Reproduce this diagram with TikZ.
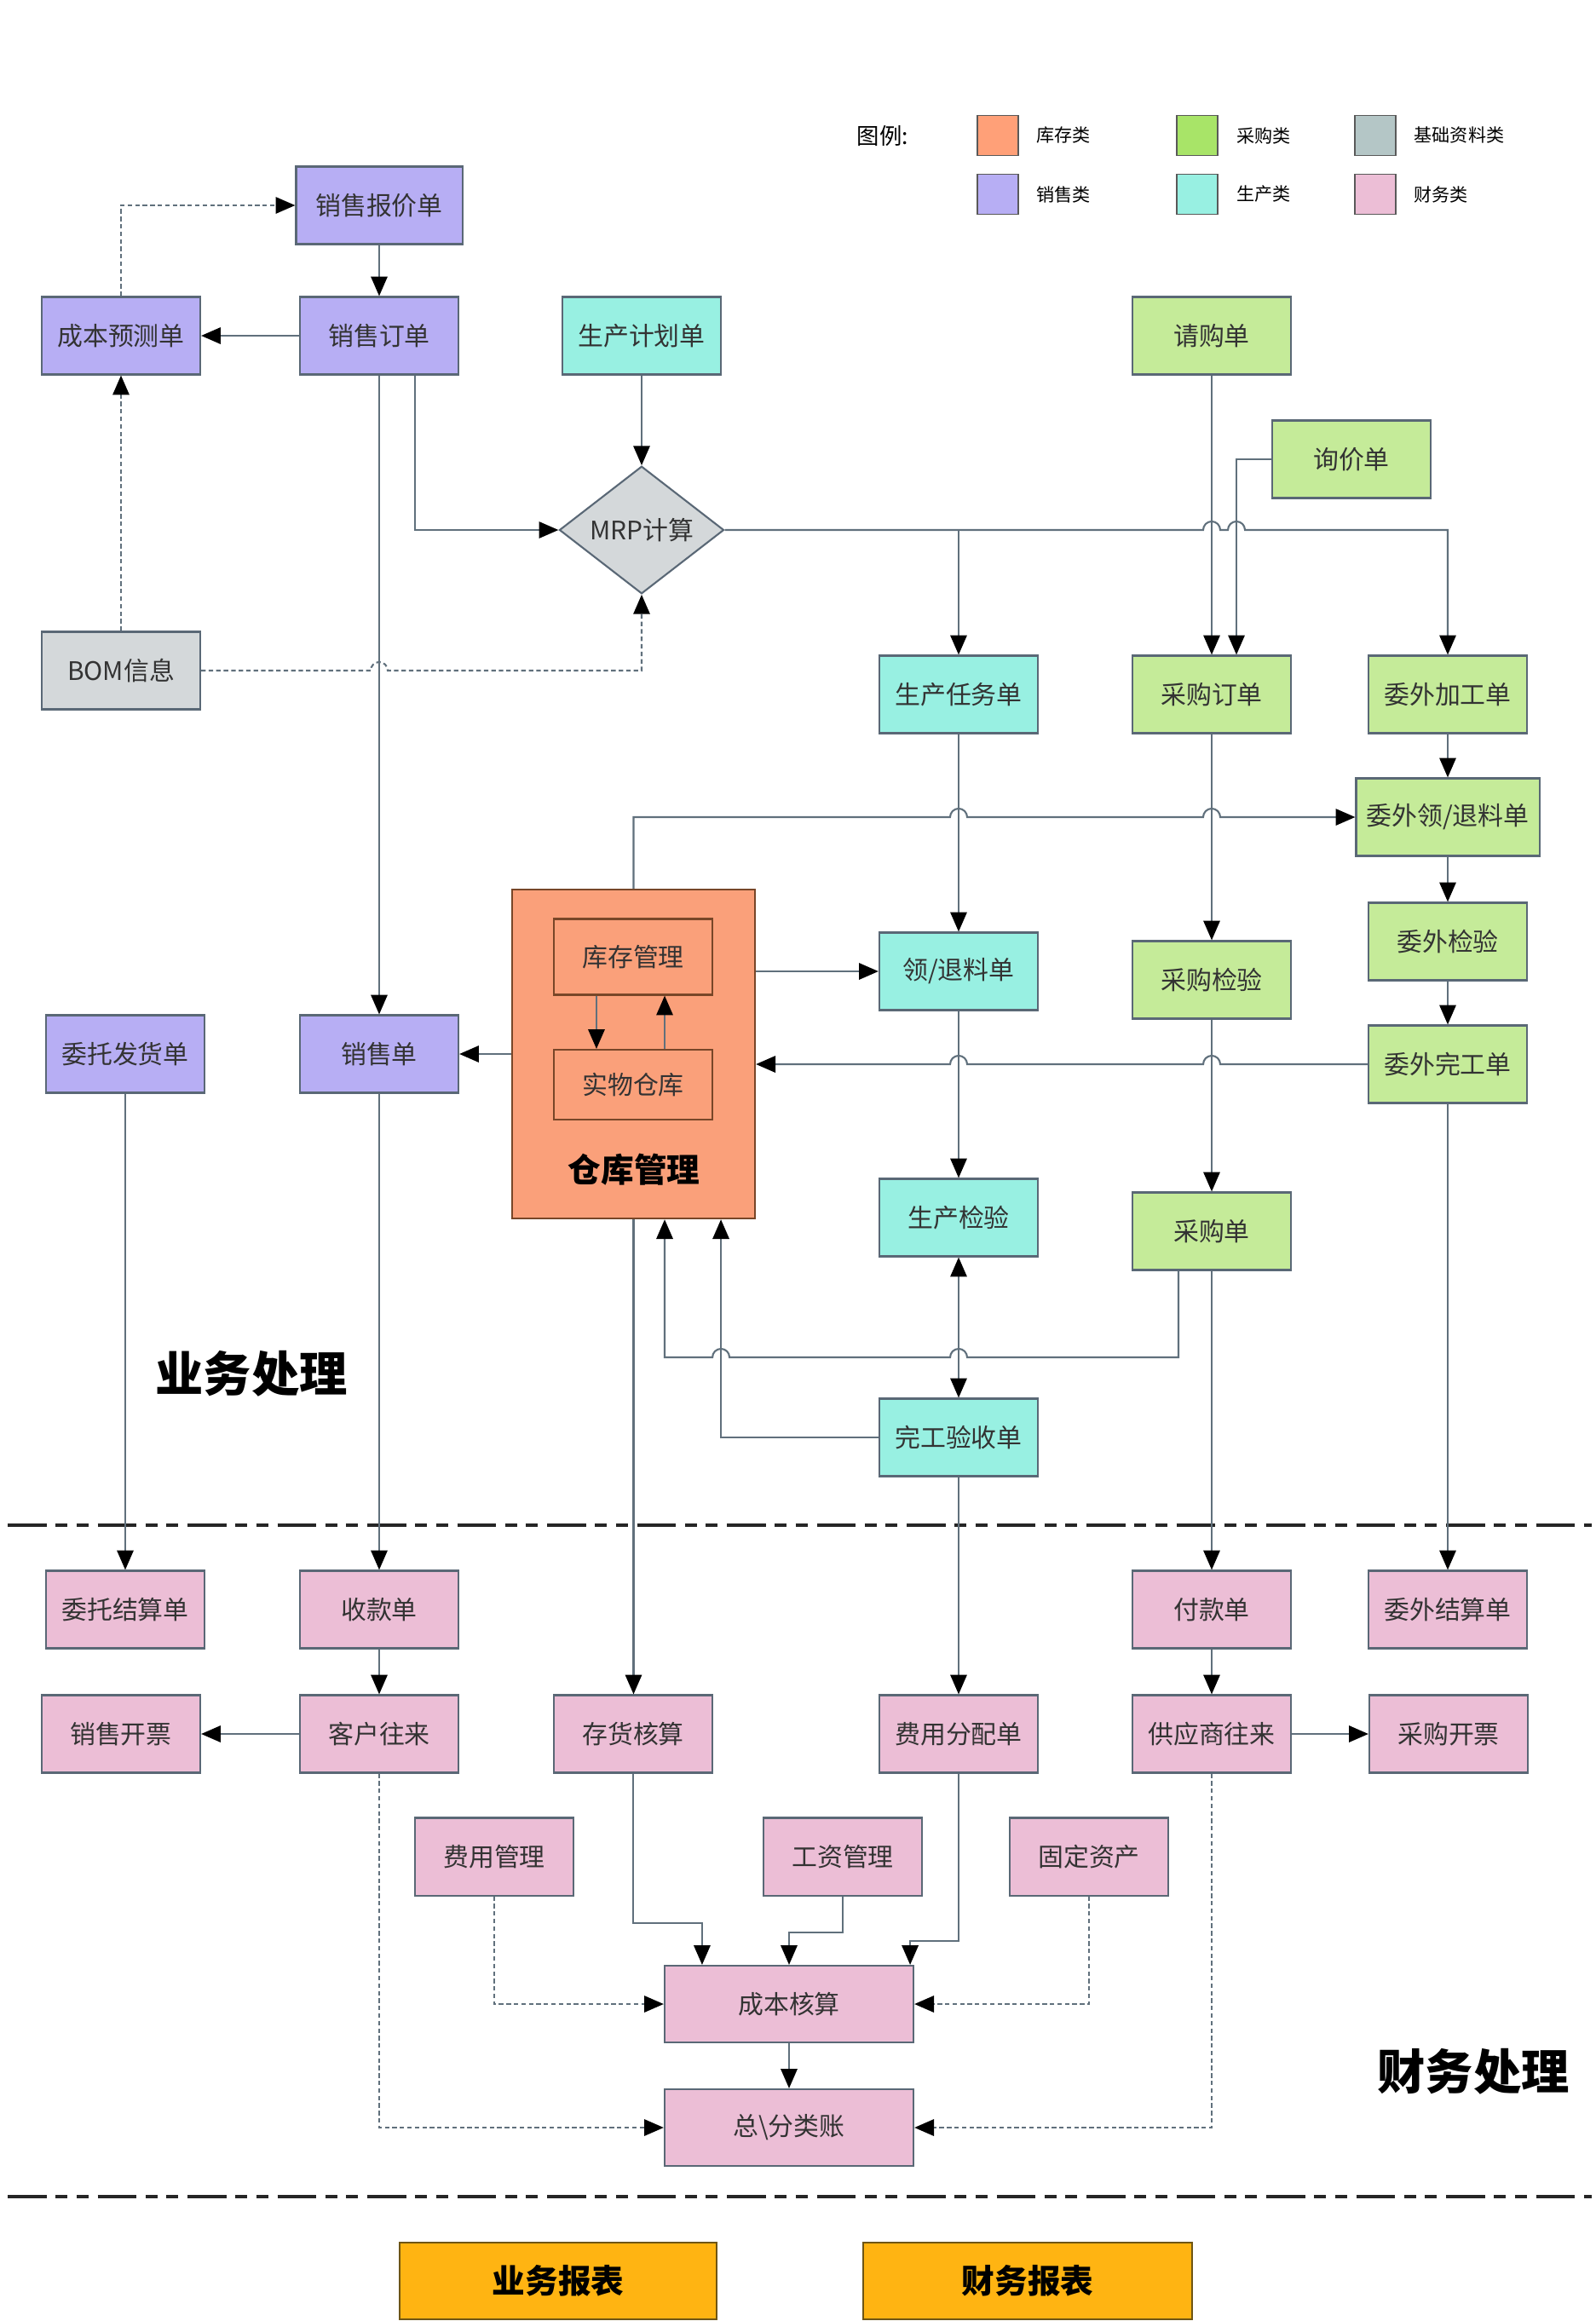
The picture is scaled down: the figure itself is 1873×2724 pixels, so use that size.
\documentclass[tikz,border=0pt]{standalone}
\usepackage{fontspec}
\setmainfont{Noto Sans CJK SC}
\usetikzlibrary{arrows.meta,shapes.geometric}

\definecolor{kucun}{RGB}{250,160,122}
\definecolor{kucunleg}{RGB}{255,160,120}
\definecolor{caigou}{RGB}{197,235,153}
\definecolor{caigouleg}{RGB}{168,228,104}
\definecolor{jichu}{RGB}{212,216,218}
\definecolor{jichuleg}{RGB}{180,198,198}
\definecolor{xiaoshou}{RGB}{183,174,244}
\definecolor{shengchan}{RGB}{152,240,226}
\definecolor{caiwu}{RGB}{236,190,214}
\definecolor{baobiao}{RGB}{255,180,18}
\definecolor{linecol}{RGB}{96,112,124}
\definecolor{boxline}{RGB}{90,104,118}
\definecolor{whline}{RGB}{120,70,40}
\definecolor{repline}{RGB}{110,85,20}

\begin{document}
\begin{tikzpicture}[
  x=0.01cm,
  y=-0.01cm,
  box/.style={draw=boxline, line width=0.6pt, minimum width=1.86cm, minimum height=0.91cm,
    inner sep=1pt, font=\fontsize{8.5}{10}\selectfont, text=black!80},
  sales/.style={box, fill=xiaoshou},
  prod/.style={box, fill=shengchan},
  purch/.style={box, fill=caigou},
  basic/.style={box, fill=jichu},
  fin/.style={box, fill=caiwu},
  stockbox/.style={box, fill=kucun, draw=whline},
  report/.style={draw=repline, line width=0.6pt, fill=baobiao, minimum height=0.90cm,
    font=\bfseries\fontsize{11}{13}\selectfont},
  swatch/.style={draw=black!65, line width=0.5pt, minimum width=0.48cm, minimum height=0.47cm, inner sep=0pt},
  legtext/.style={anchor=west, inner sep=0pt, font=\fontsize{6}{7}\selectfont},
  link/.style={draw=linecol, line width=0.6pt, -{Triangle[length=6.5pt,width=5.5pt,color=black]}},
  dlink/.style={link, dash pattern=on 1.5pt off 1pt},
  divider/.style={draw=black!85, line width=1.2pt, dash pattern=on 13pt off 3pt on 4pt off 3pt on 4pt off 3pt},
  area/.style={font=\bfseries\fontsize{16}{18}\selectfont}
]
\useasboundingbox (0,0) rectangle (1873,2724);

% legend
\node[font=\fontsize{7.5}{8}\selectfont] (legtitle) at (1036,160) {图例:};
\node[swatch, fill=kucunleg] (leg1) at (1171,159) {};
\node[legtext] (leg1t) at (1216,159) {库存类};
\node[swatch, fill=caigouleg] (leg2) at (1405,159) {};
\node[legtext] (leg2t) at (1451,159) {采购类};
\node[swatch, fill=jichuleg] (leg3) at (1614,159) {};
\node[legtext] (leg3t) at (1659,159) {基础资料类};
\node[swatch, fill=xiaoshou] (leg4) at (1171,228) {};
\node[legtext] (leg4t) at (1216,228) {销售类};
\node[swatch, fill=shengchan] (leg5) at (1405,228) {};
\node[legtext] (leg5t) at (1451,228) {生产类};
\node[swatch, fill=caiwu] (leg6) at (1614,228) {};
\node[legtext] (leg6t) at (1659,228) {财务类};

% sales
\node[sales, minimum width=1.95cm] (quote) at (445,241) {销售报价单};
\node[sales] (costf) at (142,394) {成本预测单};
\node[sales] (sorder) at (445,394) {销售订单};
\node[sales] (consign) at (147,1237) {委托发货单};
\node[sales] (sale) at (445,1237) {销售单};
\node[basic] (bom) at (142,787) {BOM信息};

% planning
\node[prod] (pplan) at (753,394) {生产计划单};
\node[diamond, draw=boxline, fill=jichu, line width=0.6pt, minimum width=1.93cm, minimum height=1.39cm,
  inner sep=0pt, font=\fontsize{8.5}{10}\selectfont, text=black!80] (mrp) at (753,622) {MRP计算};
\node[prod] (ptask) at (1125,815) {生产任务单};
\node[prod] (mat) at (1125,1140) {领/退料单};
\node[prod] (prodinsp) at (1125,1429) {生产检验};
\node[prod] (finish) at (1125,1687) {完工验收单};

% purchasing and outsourcing
\node[purch] (preq) at (1422,394) {请购单};
\node[purch] (inq) at (1586,539) {询价单};
\node[purch] (porder) at (1422,815) {采购订单};
\node[purch] (pinsp) at (1422,1150) {采购检验};
\node[purch] (pbill) at (1422,1445) {采购单};
\node[purch] (oproc) at (1699,815) {委外加工单};
\node[purch, minimum width=2.15cm] (omat) at (1699,959) {委外领/退料单};
\node[purch] (oinsp) at (1699,1105) {委外检验};
\node[purch] (odone) at (1699,1249) {委外完工单};

% warehouse
\node[draw=whline, line width=0.6pt, fill=kucun, minimum width=2.85cm, minimum height=3.86cm] (wh) at (743.5,1237) {};
\node[stockbox, minimum height=0.89cm] (stock) at (743,1123) {库存管理};
\node[stockbox, minimum height=0.82cm] (phys) at (743,1273) {实物仓库};
\node[font=\bfseries\fontsize{11}{13}\selectfont] (whname) at (744,1373) {仓库管理};

\node[area] (biz) at (295,1612) {业务处理};

% finance
\node[fin] (csettle) at (147,1889) {委托结算单};
\node[fin] (receipt) at (445,1889) {收款单};
\node[fin] (payment) at (1422,1889) {付款单};
\node[fin] (osettle) at (1699,1889) {委外结算单};
\node[fin] (sinv) at (142,2035) {销售开票};
\node[fin] (cust) at (445,2035) {客户往来};
\node[fin] (invacc) at (743,2035) {存货核算};
\node[fin] (costalloc) at (1125,2035) {费用分配单};
\node[fin] (supp) at (1422,2035) {供应商往来};
\node[fin] (pinv) at (1700,2035) {采购开票};
\node[fin] (expm) at (580,2179) {费用管理};
\node[fin] (wage) at (989,2179) {工资管理};
\node[fin] (asset) at (1278,2179) {固定资产};
\node[fin, minimum width=2.92cm, minimum height=0.9cm] (cost) at (926,2352) {成本核算};
\node[fin, minimum width=2.92cm, minimum height=0.9cm] (ledger) at (926,2497) {总\textbackslash 分类账};

\node[area] (finlabel) at (1729,2431) {财务处理};

% reports
\node[report, minimum width=3.72cm] (rep1) at (655,2677) {业务报表};
\node[report, minimum width=3.86cm] (rep2) at (1206,2677) {财务报表};

\draw[divider] (9,1790) -- (1868,1790);
\draw[divider] (9,2578) -- (1868,2578);

% connectors, top part
\draw[dlink] (costf.north) |- (quote.west);
\draw[link] (quote.south) -- (sorder.north);
\draw[link] (sorder.west) -- (costf.east);
\draw[link] (sorder.south) -- (sale.north);
\draw[link] ([xshift=0.42cm]sorder.south) |- (mrp.west);
\draw[link] (pplan.south) -- (mrp.north);
\draw[dlink] (bom.north) -- (costf.south);
\draw[dlink] (bom.east) -- ([xshift=-0.1cm]sorder.south |- bom.east) arc(180:360:10)
  -- (mrp.south |- bom.east) -- (mrp.south);
\draw[link] (mrp.east) -- ([xshift=-0.1cm]preq.south |- mrp.east) arc(180:360:10)
  -- ([xshift=0.19cm]preq.south |- mrp.east) arc(180:360:10)
  -- (oproc.north |- mrp.east) -- (oproc.north);
\draw[link] (ptask.north |- mrp.east) -- (ptask.north);
\draw[link] (preq.south) -- (porder.north);
\draw[link] (inq.west) -| ([xshift=0.29cm]porder.north);

% connectors, middle part
\draw[link] (ptask.south) -- (mat.north);
\draw[link] (porder.south) -- (pinsp.north);
\draw[link] (oproc.south) -- (omat.north);
\draw[link] (omat.south) -- (oinsp.north);
\draw[link] (oinsp.south) -- (odone.north);
\draw[link] (wh.north) -- (wh.north |- omat.west)
  -- ([xshift=-0.1cm]ptask.south |- omat.west) arc(180:360:10)
  -- ([xshift=-0.1cm]porder.south |- omat.west) arc(180:360:10) -- (omat.west);
\draw[link] (wh.east |- mat.west) -- (mat.west);
\draw[link] (wh.west) -- (sale.east);
\draw[link] ([xshift=-0.43cm]stock.south) -- ([xshift=-0.43cm]phys.north);
\draw[link] ([xshift=0.37cm]phys.north) -- ([xshift=0.37cm]stock.south);
\draw[link] (odone.west) -- ([xshift=0.1cm]pinsp.south |- odone.west) arc(0:-180:10)
  -- ([xshift=0.1cm]mat.south |- odone.west) arc(0:-180:10) -- (wh.east |- odone.west);
\draw[link] (mat.south) -- (prodinsp.north);
\draw[link] (pinsp.south) -- (pbill.north);
\draw[link, {Triangle[length=6.5pt,width=5.5pt,color=black]}-{Triangle[length=6.5pt,width=5.5pt,color=black]}]
  (prodinsp.south) -- (finish.north);
\coordinate (back) at (1383,1593);
\draw[link] ([xshift=-0.39cm]pbill.south) -- (back)
  -- ([xshift=0.1cm]finish.north |- back) arc(0:-180:10)
  -- ([xshift=1.125cm]wh.south |- back) arc(0:-180:10)
  -- ([xshift=0.365cm]wh.south |- back) -- ([xshift=0.365cm]wh.south);
\draw[link] (finish.west) -| ([xshift=1.025cm]wh.south);

% connectors, finance part
\draw[link] (consign.south) -- (csettle.north);
\draw[link] (sale.south) -- (receipt.north);
\draw[link] (wh.south) -- (wh.south |- invacc.north);
\draw[link] (finish.south) -- (costalloc.north);
\draw[link] (pbill.south) -- (payment.north);
\draw[link] (odone.south) -- (osettle.north);
\draw[link] (receipt.south) -- (cust.north);
\draw[link] (payment.south) -- (supp.north);
\draw[link] (cust.west) -- (sinv.east);
\draw[link] (supp.east) -- (pinv.west);
\draw[link] (invacc.south) -- ++(0,175) -| ([xshift=-1.02cm]cost.north);
\draw[link] (wage.south) -- ++(0,42) -| (cost.north);
\draw[link] (costalloc.south) -- ++(0,196) -| ([xshift=1.42cm]cost.north);
\draw[dlink] (expm.south) |- (cost.west);
\draw[dlink] (asset.south) |- (cost.east);
\draw[link] (cost.south) -- (ledger.north);
\draw[dlink] (cust.south) |- (ledger.west);
\draw[dlink] (supp.south) |- (ledger.east);
\end{tikzpicture}
\end{document}
